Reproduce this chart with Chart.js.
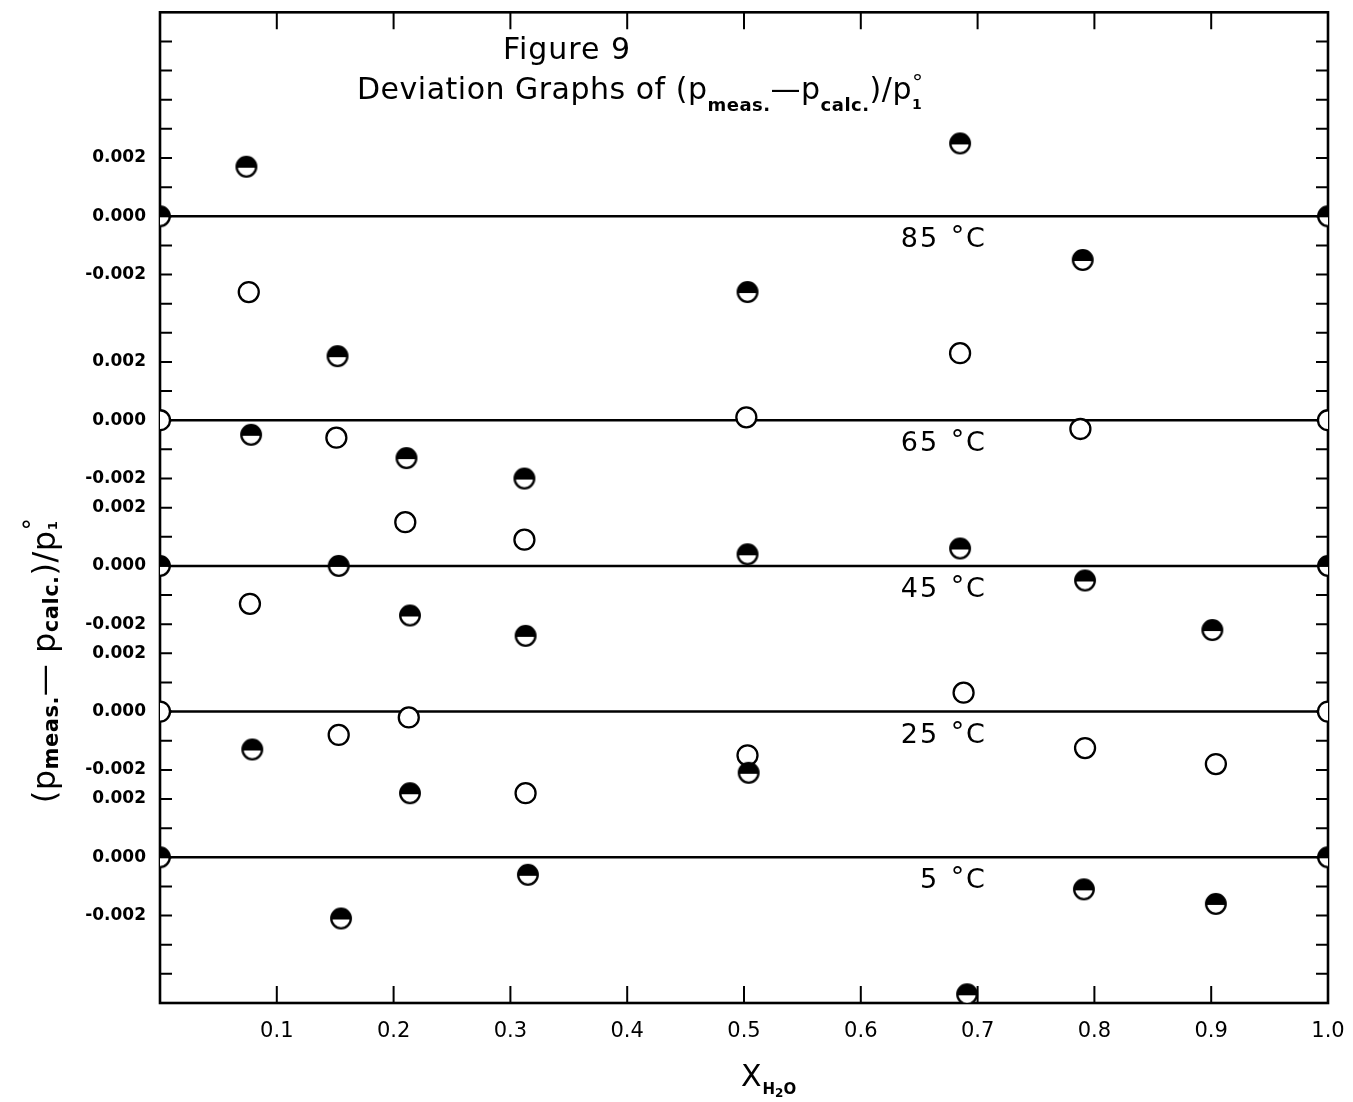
<!DOCTYPE html>
<html>
<head>
<meta charset="utf-8">
<script src="https://cdn.jsdelivr.net/npm/chart.js@4.4.1/dist/chart.umd.min.js"></script>
<style>
  html, body { margin: 0; padding: 0; background: #fff; }
  #wrap { width: 1353px; height: 1102px; }
</style>
</head>
<body>
<div id="wrap"><canvas id="fig9" width="1353" height="1102"></canvas></div>
<script>
// Figure 9: deviations (p_meas - p_calc)/p1° against mole fraction of water,
// one strip per temperature, stacked on one axis (1 step = 0.001)
const temps = ['85', '65', '45', '25', '5'];
const zeroLevel = [27, 20, 15, 10, 5];
const yTop = 34;

// half filled symbols
const x85Half = [0, 0.074, 0.503, 0.685, 0.790, 1.0];
const d85Half = [0, 0.0017, -0.0026, 0.0025, -0.0015, 0];
const x65Half = [0.152, 0.078, 0.211, 0.312];
const d65Half = [0.0022, -0.0005, -0.0013, -0.0020];
const x45Half = [0, 0.153, 0.214, 0.313, 0.503, 0.685, 0.792, 0.901, 1.0];
const d45Half = [0, 0, -0.0017, -0.0024, 0.0004, 0.0006, -0.0005, -0.0022, 0];
const x25Half = [0.079, 0.214, 0.504];
const d25Half = [-0.0013, -0.0028, -0.0021];
const x5Half = [0, 0.155, 0.315, 0.691, 0.791, 0.904, 1.0];
const d5Half = [0, -0.0021, -0.0006, -0.0047, -0.0011, -0.0016, 0];

// open symbols
const x85Open = [0.076];
const d85Open = [-0.0026];
const x65Open = [0, 0.151, 0.502, 0.685, 0.788, 1.0];
const d65Open = [0, -0.0006, 0.0001, 0.0023, -0.0003, 0];
const x45Open = [0.077, 0.210, 0.312];
const d45Open = [-0.0013, 0.0015, 0.0009];
const x25Open = [0, 0.153, 0.213, 0.313, 0.503, 0.688, 0.792, 0.904, 1.0];
const d25Open = [0, -0.0008, -0.0002, -0.0028, -0.0015, 0.00065, -0.00125, -0.0018, 0];
const x5Open = [];
const d5Open = [];

const xTicks = [0.1, 0.2, 0.3, 0.4, 0.5, 0.6, 0.7, 0.8, 0.9, 1.0];
const yTickText = ['0.002', '0.000', '-0.002'];

const halfSets = [[x85Half, d85Half], [x65Half, d65Half], [x45Half, d45Half], [x25Half, d25Half], [x5Half, d5Half]];
const openSets = [[x85Open, d85Open], [x65Open, d65Open], [x45Open, d45Open], [x25Open, d25Open], [x5Open, d5Open]];

function stack(sets) {
    let pts = [];
    sets.forEach(function (s, i) {
        s[0].forEach(function (x, j) {
            pts.push({ x: x, y: zeroLevel[i] + s[1][j] * 1000 });
        });
    });
    return pts;
}

// labels of the left axis: +0.002 / 0.000 / -0.002 around each zero line
const yLabels = {};
zeroLevel.forEach(function (z) {
    yLabels[z + 2] = yTickText[0];
    yLabels[z] = yTickText[1];
    yLabels[z - 2] = yTickText[2];
});

function halfDisc(r) {
    const c = document.createElement('canvas');
    const s = Math.ceil(2 * r + 4);
    c.width = s;
    c.height = s;
    const g = c.getContext('2d');
    const m = s / 2;
    g.beginPath();
    g.arc(m, m, r, 0, 2 * Math.PI);
    g.fillStyle = '#fff';
    g.fill();
    g.save();
    g.clip();
    g.fillStyle = '#000';
    g.fillRect(0, 0, s, m + 1);
    g.restore();
    g.beginPath();
    g.arc(m, m, r, 0, 2 * Math.PI);
    g.lineWidth = 2.3;
    g.strokeStyle = '#000';
    g.stroke();
    return c;
}

const datasets = [
    {
        data: stack(halfSets),
        pointStyle: halfDisc(9.8),
        pointRadius: 10,
        order: 1
    },
    {
        data: stack(openSets),
        pointStyle: 'circle',
        pointRadius: 10,
        backgroundColor: '#fff',
        borderColor: '#000',
        borderWidth: 2.3,
        order: 1
    }
];
zeroLevel.forEach(function (z) {
    datasets.push({
        data: [{ x: 0, y: z }, { x: 1, y: z }],
        showLine: true,
        borderColor: '#000',
        borderWidth: 2.5,
        pointRadius: 0,
        order: 2
    });
});

function drawRuns(ctx, x, y, runs, align) {
    let w = 0;
    runs.forEach(function (r) {
        ctx.font = r.font;
        r.w = r.noAdvance ? 0 : ctx.measureText(r.t).width + (r.gap || 0);
        w += r.w;
    });
    let cx = align === 'center' ? x - w / 2 : (align === 'right' ? x - w : x);
    runs.forEach(function (r) {
        ctx.font = r.font;
        ctx.fillText(r.t, cx, y + (r.dy || 0));
        cx += r.w;
    });
}

// frame with inward ticks, drawn under the symbols
const framePlugin = {
    id: 'frame',
    beforeDatasetsDraw(chart) {
        const ctx = chart.ctx;
        const a = chart.chartArea;
        const xs = chart.scales.x;
        const ys = chart.scales.y;
        ctx.save();
        ctx.strokeStyle = '#000';
        ctx.lineWidth = 2.6;
        ctx.strokeRect(a.left, a.top, a.right - a.left, a.bottom - a.top);
        ctx.lineWidth = 2;
        ctx.beginPath();
        for (let v = 1; v < yTop; v++) {
            const y = ys.getPixelForValue(v);
            ctx.moveTo(a.left, y);
            ctx.lineTo(a.left + 12, y);
            ctx.moveTo(a.right, y);
            ctx.lineTo(a.right - 12, y);
        }
        xTicks.forEach(function (t) {
            if (t >= 1) return;
            const x = xs.getPixelForValue(t);
            ctx.moveTo(x, a.bottom);
            ctx.lineTo(x, a.bottom - 17);
            ctx.moveTo(x, a.top);
            ctx.lineTo(x, a.top + 17);
        });
        ctx.stroke();
        ctx.restore();
    }
};

const textPlugin = {
    id: 'texts',
    afterDraw(chart) {
        const ctx = chart.ctx;
        const xs = chart.scales.x;
        const ys = chart.scales.y;
        const big = '30px "DejaVu Sans"';
        const sub = 'bold 18px "DejaVu Sans"';
        ctx.save();
        ctx.fillStyle = '#000';
        ctx.textBaseline = 'alphabetic';
        ctx.textAlign = 'left';

        // title inside the frame
        ctx.letterSpacing = '1px';
        drawRuns(ctx, 567, 59, [{ t: 'Figure 9', font: big }], 'center');
        ctx.letterSpacing = '0.5px';
        drawRuns(ctx, 357, 99, [
            { t: 'Deviation Graphs of (p', font: big },
            { t: 'meas.', font: sub, dy: 12 },
            { t: '\u2014p', font: big },
            { t: 'calc.', font: sub, dy: 12 },
            { t: ')/p', font: big },
            { t: '\u00b0', font: '22px "DejaVu Sans"', dy: -9, noAdvance: true },
            { t: '1', font: 'bold 14px "DejaVu Sans"', dy: 10 }
        ], 'left');

        // temperature of each strip
        ctx.letterSpacing = '2px';
        temps.forEach(function (t, i) {
            const y = ys.getPixelForValue(zeroLevel[i]) + 31;
            ctx.font = '27px "DejaVu Sans"';
            ctx.textAlign = 'right';
            ctx.fillText(t, xs.getPixelForValue(0.667), y);
            ctx.textAlign = 'left';
            ctx.fillText('C', xs.getPixelForValue(0.69), y);
            ctx.fillText('\u00b0', xs.getPixelForValue(0.677), y - 2);
        });

        // x axis title
        ctx.letterSpacing = '0px';
        ctx.textAlign = 'left';
        drawRuns(ctx, 741, 1086, [
            { t: 'X', font: '30px "DejaVu Sans"', gap: 1 },
            { t: 'H', font: 'bold 15px "DejaVu Sans"', dy: 8 },
            { t: '2', font: 'bold 12px "DejaVu Sans"', dy: 11 },
            { t: 'O', font: 'bold 15px "DejaVu Sans"', dy: 8 }
        ], 'left');

        // y axis title, rotated
        ctx.translate(55, 662);
        ctx.rotate(-Math.PI / 2);
        ctx.letterSpacing = '0.5px';
        drawRuns(ctx, 0, 0, [
            { t: '(p', font: '32px "DejaVu Sans"' },
            { t: 'meas.', font: 'bold 21px "DejaVu Sans"', dy: 3 },
            { t: '\u2014 p', font: '32px "DejaVu Sans"' },
            { t: 'calc.', font: 'bold 21px "DejaVu Sans"', dy: 3 },
            { t: ')/p', font: '32px "DejaVu Sans"' },
            { t: '\u00b0', font: '24px "DejaVu Sans"', dy: -14, noAdvance: true },
            { t: '1', font: 'bold 13px "DejaVu Sans"', dy: 2 }
        ], 'center');
        ctx.restore();
    }
};

new Chart(document.getElementById('fig9'), {
    type: 'scatter',
    data: { datasets: datasets },
    options: {
        responsive: false,
        animation: false,
        devicePixelRatio: 1,
        layout: { padding: { top: 12, right: 25, left: 0, bottom: 0 } },
        plugins: { legend: { display: false }, tooltip: { enabled: false } },
        scales: {
            x: {
                type: 'linear',
                min: 0,
                max: 1,
                grid: { display: false },
                border: { display: false },
                afterBuildTicks: function (s) {
                    s.ticks = xTicks.map(function (v) { return { value: v }; });
                },
                afterFit: function (s) {
                    s.height = 99;
                    s.paddingLeft = 0;
                    s.paddingRight = 0;
                },
                ticks: {
                    autoSkip: false,
                    maxRotation: 0,
                    padding: 8,
                    color: '#000',
                    font: { family: 'DejaVu Sans', size: 21 },
                    callback: function (v) { return Number(v).toFixed(1); }
                }
            },
            y: {
                type: 'linear',
                min: 0,
                max: yTop,
                grid: { display: false },
                border: { display: false },
                afterFit: function (s) {
                    s.width = 160;
                    s.paddingTop = 0;
                    s.paddingBottom = 0;
                },
                ticks: {
                    stepSize: 1,
                    autoSkip: false,
                    padding: 6,
                    color: '#000',
                    font: { family: 'DejaVu Sans', size: 17, weight: 'bold' },
                    callback: function (v) { return yLabels[v] || ''; }
                }
            }
        }
    },
    plugins: [framePlugin, textPlugin]
});
</script>
</body>
</html>
